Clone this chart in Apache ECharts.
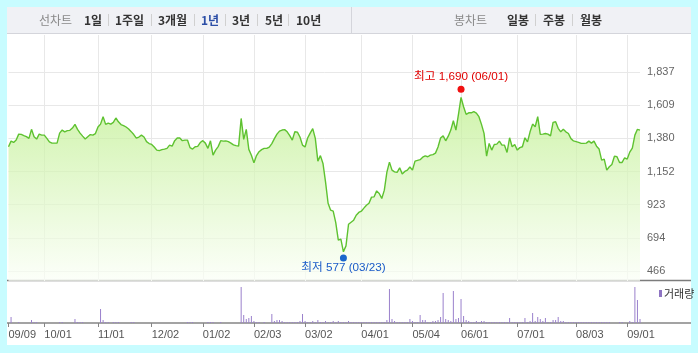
<!DOCTYPE html>
<html><head><meta charset="utf-8">
<script src="https://cdn.jsdelivr.net/npm/echarts@6/dist/echarts.min.js"></script>
<style>html,body{margin:0;padding:0;background:#c8fcff;}#c{width:698px;height:353px;}</style>
</head><body><div id="c"></div>
<script>
// ---- calendar (categories) ----
const startDate = '2019-09-09';
const endDate = '2020-09-08';
const marketHolidays = ['2019-09-12','2019-09-13','2019-10-03','2019-10-09','2019-12-25','2019-12-31',
  '2020-01-01','2020-01-24','2020-01-27','2020-04-15','2020-04-30','2020-05-01','2020-05-05','2020-08-17'];

// ---- closing prices (one per trading day) ----
const priceClose = [
1322,1361,1352,1368,1409,1407,1399,1392,1380,1442,
1391,1375,1409,1402,1402,1380,1356,1347,1347,1347,
1416,1437,1425,1433,1435,1451,1476,1442,1416,1395,
1375,1391,1406,1402,1413,1458,1478,1529,1476,1485,
1478,1490,1520,1494,1475,1468,1458,1444,1426,1406,
1382,1389,1402,1389,1357,1344,1338,1320,1299,1295,
1302,1306,1311,1333,1326,1364,1382,1382,1364,1368,
1368,1316,1306,1322,1325,1351,1364,1347,1311,1363,
1264,1299,1323,1364,1361,1362,1357,1347,1335,1330,
1326,1517,1373,1442,1304,1264,1211,1261,1288,1302,
1311,1311,1320,1344,1378,1409,1430,1437,1440,1425,
1399,1368,1425,1423,1389,1333,1320,1382,1416,1447,
1380,1223,1261,1207,1080,933,885,878,799,678,
685,598,639,788,802,816,850,869,878,899,
919,933,975,977,1018,1000,966,1023,1147,1216,
1161,1149,1145,1177,1135,1152,1161,1182,1161,1223,
1228,1233,1250,1259,1253,1264,1268,1278,1320,1382,
1397,1363,1395,1437,1501,1437,1545,1662,1598,1545,
1556,1556,1564,1554,1529,1476,1414,1257,1345,1299,
1338,1340,1361,1333,1333,1283,1384,1322,1338,1299,
1316,1322,1384,1356,1425,1478,1460,1529,1407,1409,
1413,1409,1397,1490,1494,1449,1425,1442,1425,1413,
1378,1362,1357,1352,1345,1345,1347,1361,1347,1361,
1326,1306,1230,1237,1161,1184,1200,1257,1253,1214,
1214,1246,1237,1285,1313,1402,1442,1437];

// ---- volume (thousand shares) ----
const volume = [
0,60,0,0,10,0,0,0,0,30,
10,10,0,0,0,0,0,0,0,0,
10,10,0,0,0,0,40,10,10,10,
0,0,0,0,0,0,140,30,10,10,
0,10,10,10,0,0,0,0,10,10,
0,0,0,0,0,0,0,0,0,0,
0,0,0,0,0,0,0,0,0,0,
10,10,10,0,0,0,0,0,10,10,
10,0,0,10,0,0,0,0,0,0,
0,360,80,40,50,70,20,10,10,0,
10,0,0,90,20,30,30,20,10,10,
10,10,10,10,20,90,20,10,10,20,
10,30,10,10,20,10,10,20,10,20,
10,10,10,20,10,10,10,10,10,10,
10,10,10,10,10,10,10,10,30,340,
40,20,10,10,10,10,10,40,20,10,
10,80,30,30,10,10,20,20,30,60,
300,40,30,20,320,40,50,240,70,30,
20,10,10,20,10,20,20,10,10,10,
10,10,10,10,10,10,50,10,10,10,
10,10,50,10,20,100,20,60,40,20,
50,10,10,30,30,60,20,20,10,10,
10,10,10,10,10,10,10,10,10,10,
10,10,10,10,10,10,0,0,0,10,
10,0,0,20,10,360,230,40];

// ---- y-axis ticks ----
const yTickValues = [466, 694.5, 923, 1151.5, 1380, 1608.5, 1837];
const yTickLabels = ['466', '694', '923', '1,152', '1,380', '1,609', '1,837'];

// ---- high / low annotations ----
const highMark = { date: '2020-06-01', value: 1690, text: '최고 1,690 (06/01)' };
const lowMark  = { date: '2020-03-23', value: 577,  text: '최저 577 (03/23)' };

// ---- top menu ----
const periodButtons = ['1일', '1주일', '3개월', '1년', '3년', '5년', '10년'];
const candleButtons = ['일봉', '주봉', '월봉'];

function buildDates() {
  const out = [];
  let d = new Date(startDate + 'T00:00:00Z');
  const end = new Date(endDate + 'T00:00:00Z');
  while (d <= end) {
    const dow = d.getUTCDay();
    const s = d.toISOString().slice(0, 10);
    if (dow !== 0 && dow !== 6 && marketHolidays.indexOf(s) < 0) out.push(s);
    d = new Date(d.getTime() + 86400000);
  }
  return out;
}
const dates = buildDates();
function isMonthStart(i) { return i === 0 || dates[i].slice(5, 7) !== dates[i - 1].slice(5, 7); }
const fmtDate = v => v.slice(5, 7) + '/' + v.slice(8, 10);
function yLabel(v) {
  let best = 0;
  for (let i = 1; i < yTickValues.length; i++) if (Math.abs(yTickValues[i] - v) < Math.abs(yTickValues[best] - v)) best = i;
  return yTickLabels[best];
}

const KR = '"Noto Sans CJK KR", sans-serif';
const NUM = '"Liberation Sans", "Noto Sans CJK KR", sans-serif';

// menu graphics
const g = [];
g.push({ type: 'rect', z: -10, silent: true, shape: { x: 7, y: 7, width: 684, height: 338 }, style: { fill: '#ffffff' } });
g.push({ type: 'rect', z: -9, silent: true, shape: { x: 7, y: 7, width: 684, height: 26 }, style: { fill: '#f0f1f5' } });
g.push({ type: 'line', silent: true, shape: { x1: 7, y1: 33.5, x2: 691, y2: 33.5 }, style: { stroke: '#d4d5db', lineWidth: 1 } });
g.push({ type: 'line', silent: true, shape: { x1: 351.5, y1: 7, x2: 351.5, y2: 33 }, style: { stroke: '#d4d5db', lineWidth: 1 } });
function menuText(x, text, color, bold) {
  g.push({ type: 'text', silent: true, x: x, y: 20, style: { text: text, fill: color, fontSize: 12, fontWeight: bold ? 'bold' : 'normal', fontFamily: KR, align: 'left', verticalAlign: 'middle' } });
}
function sep(x) {
  g.push({ type: 'line', silent: true, shape: { x1: x, y1: 14, x2: x, y2: 26 }, style: { stroke: '#d0d0d0', lineWidth: 1 } });
}
menuText(39, '선차트', '#888888', false);
const periodX = [84, 115, 158, 201, 232, 265, 296];
const periodSep = [108.5, 151.5, 194.5, 225.5, 257.5, 288.5];
periodButtons.forEach((t, i) => menuText(periodX[i], t, t === '1년' ? '#2b4ea6' : '#333333', true));
periodSep.forEach(sep);
menuText(454, '봉차트', '#888888', false);
const candleX = [507, 543, 580];
candleButtons.forEach((t, i) => menuText(candleX[i], t, '#333333', true));
[535.5, 572.5].forEach(sep);
// panel separators
g.push({ type: 'line', silent: true, shape: { x1: 7, y1: 280.5, x2: 691, y2: 280.5 }, style: { stroke: '#7c7c7c', lineWidth: 1.5 } });
g.push({ type: 'line', silent: true, shape: { x1: 7, y1: 323, x2: 691, y2: 323 }, style: { stroke: '#858585', lineWidth: 1.5 } });
// volume legend
g.push({ type: 'rect', silent: true, shape: { x: 659, y: 290, width: 3, height: 7 }, style: { fill: '#8e74c2' } });
g.push({ type: 'text', silent: true, x: 664, y: 293.5, style: { text: '거래량', fill: '#333', fontSize: 11, fontFamily: KR, align: 'left', verticalAlign: 'middle' } });

const chart = echarts.init(document.getElementById('c'), null, { renderer: 'canvas' });
chart.setOption({
  animation: false,
  backgroundColor: '#c8fcff',
  textStyle: { fontFamily: NUM },
  graphic: g,
  grid: [
    { left: 8.5, right: 58, top: 35, bottom: 72 },
    { left: 8.5, right: 58, top: 283, bottom: 30 }
  ],
  xAxis: [
    { type: 'category', gridIndex: 0, data: dates, boundaryGap: false,
      axisLine: { show: false }, axisTick: { show: false }, axisLabel: { show: false },
      splitLine: { show: true, interval: (i) => i > 0 && isMonthStart(i), lineStyle: { color: '#e8e8e8', width: 1 } } },
    { type: 'category', gridIndex: 1, data: dates, boundaryGap: false,
      axisLine: { show: false },
      axisTick: { show: true, interval: (i) => isMonthStart(i), length: 4, lineStyle: { color: '#858585', width: 1 } },
      axisLabel: { interval: (i) => isMonthStart(i), formatter: fmtDate, align: 'left', margin: 6, color: '#555', fontSize: 11, fontFamily: NUM },
      splitLine: { show: false } }
  ],
  yAxis: [
    { type: 'value', gridIndex: 0, position: 'right', min: 397, max: 2092,
      axisLine: { show: false },
      axisTick: { show: false, customValues: yTickValues },
      axisLabel: { customValues: yTickValues, formatter: yLabel, margin: 7, color: '#666', fontSize: 11, fontFamily: NUM },
      splitLine: { show: true, lineStyle: { color: '#e8e8e8', width: 1 } } },
    { type: 'value', gridIndex: 1, min: 0, max: 400, show: false, splitLine: { show: false } }
  ],
  series: [
    { type: 'line', xAxisIndex: 0, yAxisIndex: 0, data: priceClose, symbol: 'none', silent: true,
      lineStyle: { color: '#5ec230', width: 1.4 },
      areaStyle: { color: new echarts.graphic.LinearGradient(0, 0, 0, 1, [
        { offset: 0, color: '#bbee88' }, { offset: 1, color: '#fbfff7' }]) },
      markPoint: {
        symbol: 'circle', symbolSize: 7, silent: true,
        data: [
          { coord: [highMark.date, highMark.value], symbolOffset: [0, -4], itemStyle: { color: '#f01010' },
            label: { show: true, position: 'top', distance: 3, formatter: highMark.text, color: '#e00000', fontSize: 11.7, fontFamily: NUM } },
          { coord: [lowMark.date, lowMark.value], symbolOffset: [0, 3], itemStyle: { color: '#1a66cc' },
            label: { show: true, position: 'bottom', distance: 1, formatter: lowMark.text, color: '#1a5bc8', fontSize: 11.7, fontFamily: NUM } }
        ]
      } },
    { type: 'bar', xAxisIndex: 1, yAxisIndex: 1, data: volume, barWidth: 1, silent: true,
      itemStyle: { color: '#9a80cc' } }
  ]
});
</script></body></html>
